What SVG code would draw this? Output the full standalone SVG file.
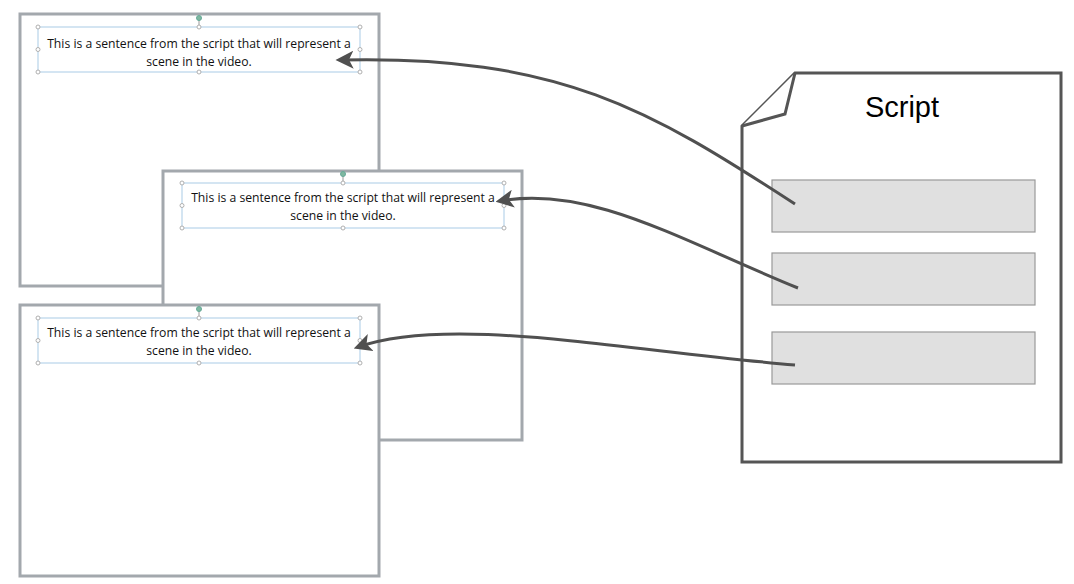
<svg xmlns="http://www.w3.org/2000/svg" width="1074" height="584" viewBox="0 0 1074 584">
<style>
.slide{fill:#fff;stroke:#a3a8ad;stroke-width:3}
.tb{fill:none;stroke:#a9cbe6;stroke-width:1}
.h{fill:#fff;stroke:#b0b0b0;stroke-width:1}
.t{font-family:"Open Sans","Liberation Sans",sans-serif;font-size:12.2px;fill:#111;text-anchor:middle}
.box{fill:#e0e0e0;stroke:#999;stroke-width:1.2}
.doc{fill:#fff;stroke:#555;stroke-width:3;stroke-linejoin:miter}
.c{fill:none;stroke:#505050;stroke-width:3;marker-end:url(#a)}
</style>
<defs>
<marker id="a" markerWidth="6" markerHeight="6" refX="4.5" refY="3" orient="auto" markerUnits="strokeWidth">
<path d="M0,0 L6,3 L0,6 L1.5,3 z" fill="#505050"/>
</marker>
<g id="handles">
<rect class="tb" x="0" y="0" width="322" height="45"/>
<line x1="161" y1="0" x2="161" y2="-9" stroke="#999"/>
<circle cx="161" cy="-9" r="2.5" fill="#7fb8a0" stroke="#6a9"/>
<circle class="h" cx="0" cy="0" r="2"/><circle class="h" cx="161" cy="0" r="2"/><circle class="h" cx="322" cy="0" r="2"/>
<circle class="h" cx="0" cy="22.5" r="2"/><circle class="h" cx="322" cy="22.5" r="2"/>
<circle class="h" cx="0" cy="45" r="2"/><circle class="h" cx="161" cy="45" r="2"/><circle class="h" cx="322" cy="45" r="2"/>
</g>
</defs>
<g id="slide1">
<rect class="slide" x="20" y="14" width="359" height="272"/>
<use href="#handles" x="38" y="27"/>
<text class="t" x="199" y="48">This is a sentence from the script that will represent a</text>
<text class="t" x="199" y="66">scene in the video.</text>
</g>
<g id="slide2">
<rect class="slide" x="163" y="171" width="359" height="269"/>
<use href="#handles" x="182" y="183"/>
<text class="t" x="343" y="202">This is a sentence from the script that will represent a</text>
<text class="t" x="343" y="220">scene in the video.</text>
</g>
<g id="slide3">
<rect class="slide" x="20" y="305" width="359" height="271"/>
<use href="#handles" x="38" y="318"/>
<text class="t" x="199" y="337">This is a sentence from the script that will represent a</text>
<text class="t" x="199" y="355">scene in the video.</text>
</g>
<g id="script">
<path class="doc" d="M742,126 L795,73 L1061,73 L1061,462 L742,462 Z"/>
<path class="doc" d="M742,126 L785,114 L795,73"/>
<text x="902" y="117" font-family="Liberation Sans,Arial,sans-serif" font-size="29" text-anchor="middle" fill="#000">Script</text>
<rect class="box" x="772" y="180" width="263" height="52"/>
<rect class="box" x="772" y="253" width="263" height="52"/>
<rect class="box" x="772" y="332" width="263" height="52"/>
</g>
<g id="connectors">
<path class="c" d="M795,204 C650,110 560,55 340,60"/>
<path class="c" d="M798,288 C680,240 590,185 500,201"/>
<path class="c" d="M795,365 C620,350 450,315 358,347"/>
</g>
</svg>
